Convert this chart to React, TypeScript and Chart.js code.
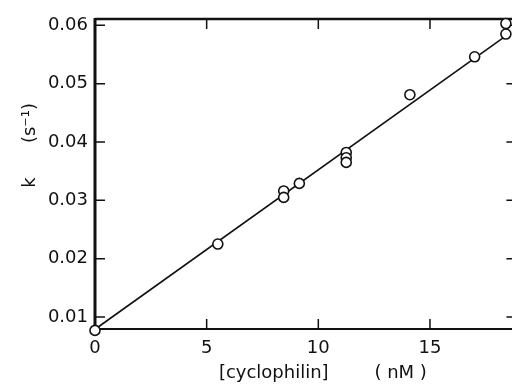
import React, { useEffect, useRef } from "react";
import { Chart, registerables } from "chart.js";

Chart.register(...registerables);

// Measured data (cyclophilin concentration in nM, rate constant k in s^-1)
const concentrations = [0, 5.5, 8.45, 8.45, 9.15, 11.25, 11.25, 11.25, 14.1, 17.0, 18.4, 18.4];
const rateConstants = [0.0077, 0.0225, 0.0316, 0.0305, 0.0329, 0.0382, 0.0373, 0.0365, 0.0481, 0.0546, 0.0585, 0.0603];

// Linear fit line endpoints
const fitX = [0, 18.4];
const fitY = [0.0079, 0.0582];

// Axis ticks and labels
const xTicks = [0, 5, 10, 15];
const xTickLabels = ["0", "5", "10", "15"];
const yTicks = [0.01, 0.02, 0.03, 0.04, 0.05, 0.06];
const yTickLabels = ["0.01", "0.02", "0.03", "0.04", "0.05", "0.06"];
const xRange = [0, 18.87];
const yRange = [0.00794, 0.06108];

const xTitle = "      [cyclophilin]        ( nM )";
const yTitle = "          k      (s\u207B\u00B9)";

const FONT = "DejaVu Sans";
const INK = "#111";

const framePlugin = {
  id: "frameAndInwardTicks",
  beforeDatasetsDraw(chart: any) {
    const { ctx, chartArea, scales } = chart;
    const { left, right, top, bottom } = chartArea;
    ctx.save();
    ctx.strokeStyle = INK;
    ctx.lineCap = "butt";
    // frame
    ctx.lineWidth = 3;
    ctx.beginPath();
    ctx.moveTo(left, top - 1);
    ctx.lineTo(left, bottom + 1);
    ctx.stroke();
    ctx.lineWidth = 2.5;
    ctx.beginPath();
    ctx.moveTo(left, top);
    ctx.lineTo(right, top);
    ctx.stroke();
    ctx.lineWidth = 2;
    ctx.beginPath();
    ctx.moveTo(left, bottom);
    ctx.lineTo(right, bottom);
    ctx.moveTo(right, top);
    ctx.lineTo(right, bottom);
    ctx.stroke();
    // inward ticks
    const tl = 10;
    ctx.lineWidth = 1.5;
    ctx.beginPath();
    xTicks.forEach((v) => {
      if (v === 0) return;
      const px = scales.x.getPixelForValue(v);
      ctx.moveTo(px, bottom);
      ctx.lineTo(px, bottom - tl);
      ctx.moveTo(px, top);
      ctx.lineTo(px, top + tl);
    });
    yTicks.forEach((v) => {
      const py = scales.y.getPixelForValue(v);
      ctx.moveTo(left, py);
      ctx.lineTo(left + tl, py);
      ctx.moveTo(right, py);
      ctx.lineTo(right - tl, py);
    });
    ctx.stroke();
    ctx.restore();
  },
};

export default function App() {
  const canvasRef = useRef<HTMLCanvasElement | null>(null);

  useEffect(() => {
    const canvas = canvasRef.current;
    if (!canvas) return;
    const chart = new Chart(canvas, {
      type: "scatter",
      data: {
        datasets: [
          {
            label: "k",
            data: concentrations.map((x, i) => ({ x, y: rateConstants[i] })),
            pointRadius: 5,
            pointBorderWidth: 1.6,
            pointBorderColor: INK,
            pointBackgroundColor: "#fff",
            showLine: false,
            clip: false,
          },
          {
            label: "fit",
            data: fitX.map((x, i) => ({ x, y: fitY[i] })),
            showLine: true,
            borderColor: INK,
            borderWidth: 1.6,
            pointRadius: 0,
            fill: false,
            clip: false,
          },
        ],
      },
      options: {
        responsive: false,
        animation: false,
        events: [],
        layout: { padding: { top: 19, right: 4, left: 0, bottom: 0 } },
        plugins: {
          legend: { display: false },
          tooltip: { enabled: false },
          title: { display: false },
        },
        scales: {
          x: {
            type: "linear",
            position: "bottom",
            min: xRange[0],
            max: xRange[1],
            grid: { display: false, drawTicks: false, tickLength: 0 },
            border: { display: false },
            afterBuildTicks: (scale: any) => {
              scale.ticks = xTicks.map((v) => ({ value: v }));
            },
            afterFit: (scale: any) => {
              scale.height = 55;
            },
            ticks: {
              autoSkip: false,
              maxRotation: 0,
              padding: 9,
              color: INK,
              font: { family: FONT, size: 18 },
              callback: (v: any) => {
                const i = xTicks.indexOf(Number(v));
                return i >= 0 ? xTickLabels[i] : "";
              },
            },
            title: {
              display: true,
              text: xTitle,
              color: INK,
              font: { family: FONT, size: 18 },
              padding: { top: 0, bottom: 0 },
            },
          },
          y: {
            type: "linear",
            position: "left",
            min: yRange[0],
            max: yRange[1],
            grid: { display: false, drawTicks: false, tickLength: 0 },
            border: { display: false },
            afterBuildTicks: (scale: any) => {
              scale.ticks = yTicks.map((v) => ({ value: v }));
            },
            afterFit: (scale: any) => {
              scale.width = 95;
            },
            ticks: {
              autoSkip: false,
              padding: 7,
              color: INK,
              font: { family: FONT, size: 18 },
              callback: (v: any) => {
                const i = yTicks.findIndex((t) => Math.abs(t - Number(v)) < 1e-9);
                return i >= 0 ? yTickLabels[i] : "";
              },
            },
            title: {
              display: true,
              text: yTitle,
              color: INK,
              font: { family: FONT, size: 18 },
              padding: { top: 20, bottom: 0 },
            },
          },
        },
      },
      plugins: [framePlugin],
    });
    return () => chart.destroy();
  }, []);

  return (
    <div
      style={{
        position: "fixed",
        left: 0,
        top: 0,
        width: 512,
        height: 384,
        overflow: "hidden",
        background: "#fff",
      }}
    >
      <canvas ref={canvasRef} width={523} height={384} style={{ display: "block" }} />
    </div>
  );
}
